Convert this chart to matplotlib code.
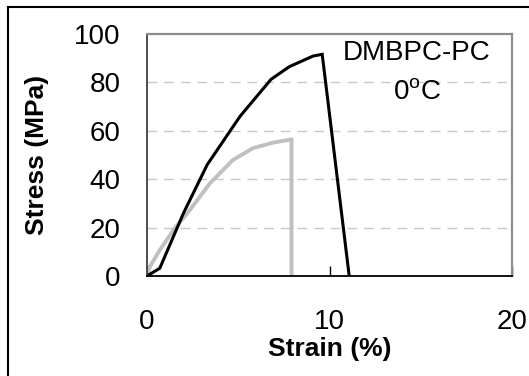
import matplotlib
matplotlib.use("Agg")
import matplotlib.pyplot as plt
from matplotlib.lines import Line2D

plt.rcParams['font.family'] = ['Liberation Sans', 'DejaVu Sans']
plt.rcParams['mathtext.fontset'] = 'custom'
plt.rcParams['mathtext.rm'] = 'Liberation Sans'

# DMBPC-PC at 0 C, two specimens
strain_a = [0, 0.7, 2.0, 3.3, 5.1, 6.8, 7.8, 9.1, 9.6, 11.08]
stress_a = [0, 3.2, 26.0, 46.0, 66.0, 81.3, 86.5, 90.9, 91.6, 0]

strain_b = [0, 0.16, 0.7, 1.45, 2.35, 3.45, 4.7, 5.8, 6.9, 7.75, 7.92, 7.92]
stress_b = [0, 3.9, 10.7, 19.0, 27.3, 38.3, 47.9, 52.8, 55.1, 56.2, 56.5, 0]

x_ticks = [0, 10, 20]
y_ticks = [0, 20, 40, 60, 80, 100]

fig = plt.figure(figsize=(5.29, 3.76), dpi=100)
ax = fig.add_axes([147 / 529, 100 / 376, 365 / 529, 242 / 376])

for y in y_ticks[1:-1]:
    ax.axhline(y, color='#c8c8c8', lw=1, dashes=(7, 5), zorder=0)

ax.plot(strain_b, stress_b, color='#c0c0c0', lw=2.8, solid_joinstyle='round')
ax.plot(strain_a, stress_a, color='black', lw=2.2, solid_joinstyle='miter')

ax.set_xlim(0, 20)
ax.set_ylim(0, 100)
ax.set_xticks(x_ticks)
ax.set_yticks(y_ticks)
ax.tick_params(axis='x', direction='in', length=7, width=1, pad=24, labelsize=20)
ax.tick_params(axis='y', length=0, pad=19, labelsize=20)

ax.spines['bottom'].set_color('black')
ax.spines['bottom'].set_linewidth(1.3)
ax.spines['left'].set_color('#404040')
ax.spines['left'].set_linewidth(1.3)
for s in ['top', 'right']:
    ax.spines[s].set_color('#8c8c8c')
    ax.spines[s].set_linewidth(1.6)

ax.set_xlabel('Strain (%)', fontsize=19, fontweight='bold', labelpad=1)
ax.set_ylabel('Stress (MPa)', fontsize=19, fontweight='bold', labelpad=18)

ax.text(14.8, 92, 'DMBPC-PC', fontsize=20, ha='center', va='center')
ax.text(14.8, 75.5, r'0$^{\mathregular{o}}$C', fontsize=20, ha='center', va='center')

# outer frame (top and left edges only)
fig.add_artist(Line2D([8 / 529, 8 / 529], [0, 1 - 7 / 376], color='black', lw=1.5,
                      transform=fig.transFigure))
fig.add_artist(Line2D([8 / 529, 1], [1 - 7 / 376, 1 - 7 / 376], color='black', lw=1.5,
                      transform=fig.transFigure))

fig.savefig('out.png', dpi=100)
